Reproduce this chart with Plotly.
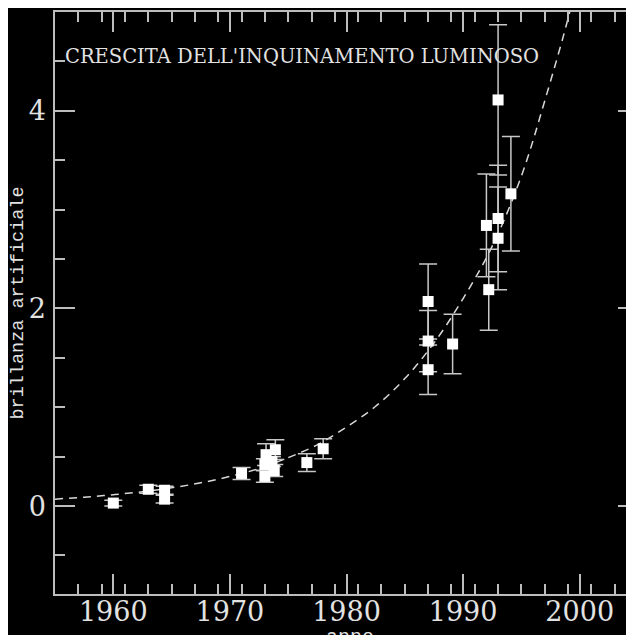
import plotly.graph_objects as go

# --- data ---
anni = [1960.0, 1963.0, 1964.4, 1964.4, 1971.0, 1973.0, 1973.0, 1973.1, 1973.6,
        1973.8, 1973.9, 1976.6, 1978.0, 1987.0, 1987.0, 1987.0, 1989.1, 1992.0,
        1992.2, 1993.0, 1993.0, 1993.0, 1994.1]
brillanza = [0.03, 0.17, 0.16, 0.07, 0.33, 0.30, 0.42, 0.52, 0.45,
             0.36, 0.57, 0.44, 0.58, 2.07, 1.67, 1.38, 1.64, 2.84,
             2.19, 4.11, 2.91, 2.71, 3.16]
errore = [0.03, 0.04, 0.04, 0.04, 0.06, 0.06, 0.06, 0.11, 0.05,
          0.06, 0.10, 0.09, 0.10, 0.38, 0.31, 0.25, 0.30, 0.52,
          0.41, 0.76, 0.54, 0.52, 0.58]

# dashed fitted curve
curva_anni = [1955.0, 1957.5, 1960.0, 1962.5, 1965.0, 1967.5, 1970.0, 1972.5,
              1975.0, 1977.5, 1980.0, 1982.5, 1985.0, 1987.5, 1990.0, 1992.5,
              1995.0, 1997.0, 1999.1, 2000.0]
curva_val = [0.07, 0.09, 0.115, 0.145, 0.185, 0.235, 0.30, 0.38,
             0.49, 0.62, 0.80, 1.01, 1.29, 1.65, 2.10, 2.63,
             3.34, 4.10, 4.98, 5.45]

x_tick_vals = [1960, 1970, 1980, 1990, 2000]
y_tick_vals = [0, 2, 4]

titolo = "CRESCITA DELL'INQUINAMENTO LUMINOSO"
x_label = "anno"
y_label = "brillanza artificiale"

X_RANGE = [1955, 2005]
Y_RANGE = [-0.89, 5.0]

FONT = "DejaVu Serif"
MONO = "Liberation Mono"
TXT = "#e2e2e2"
AX = "#bdbdbd"

W, H = 634, 635
ML, MR, MT, MB = 47, 3, 2, 49
PW, PH = W - ML - MR, H - MT - MB

fig = go.Figure()

fig.add_trace(go.Scatter(
    x=curva_anni, y=curva_val, mode="lines",
    line=dict(color="#d8d8d8", width=1.5, dash="8px,6px", shape="spline"),
    hoverinfo="skip", showlegend=False))

fig.add_trace(go.Scatter(
    x=anni, y=brillanza, mode="markers",
    marker=dict(symbol="square", size=11, color="white",
                line=dict(width=0)),
    error_y=dict(type="data", array=errore, visible=True,
                 color="#c8c8c8", thickness=1.5, width=9),
    showlegend=False))

fig.update_layout(
    width=W, height=H,
    margin=dict(l=ML, r=MR, t=MT, b=MB, pad=0),
    paper_bgcolor="black", plot_bgcolor="black",
    font=dict(family=FONT, color=TXT),
    xaxis=dict(range=X_RANGE, showgrid=False, zeroline=False,
               showline=True, linecolor=AX, linewidth=1.5, mirror="ticks",
               ticks="inside", ticklen=20, tickwidth=1.5, tickcolor=AX,
               tickmode="array", tickvals=x_tick_vals,
               tickfont=dict(family=FONT, size=27, color=TXT),
               ticklabelstandoff=-7,
               minor=dict(ticks="inside", ticklen=10, tickwidth=1.5,
                          tickcolor=AX, dtick=2, tick0=1955, showgrid=False)),
    yaxis=dict(range=Y_RANGE, showgrid=False, zeroline=False,
               showline=True, linecolor=AX, linewidth=1.5, mirror="ticks",
               ticks="inside", ticklen=20, tickwidth=1.5, tickcolor=AX,
               tickmode="array", tickvals=y_tick_vals,
               tickfont=dict(family=FONT, size=27, color=TXT),
               ticklabelstandoff=2,
               minor=dict(ticks="inside", ticklen=10, tickwidth=1.5,
                          tickcolor=AX, dtick=0.5, tick0=0, showgrid=False),
               title=dict(text=y_label, font=dict(family=MONO, size=18.5, color=TXT),
                          standoff=3)),
    annotations=[
        dict(text=titolo, xref="paper", yref="paper",
             x=(55 - ML) / PW, y=1 - (47 - MT) / PH,
             xanchor="left", yanchor="middle", showarrow=False,
             font=dict(family=FONT, size=19.5, color=TXT)),
        dict(text=x_label, xref="x", yref="paper",
             x=1980.3, y=-(616 - (H - MB)) / PH,
             xanchor="center", yanchor="top", showarrow=False,
             font=dict(family=MONO, size=20, color=TXT)),
    ],
)

fig.write_html("out.html")
